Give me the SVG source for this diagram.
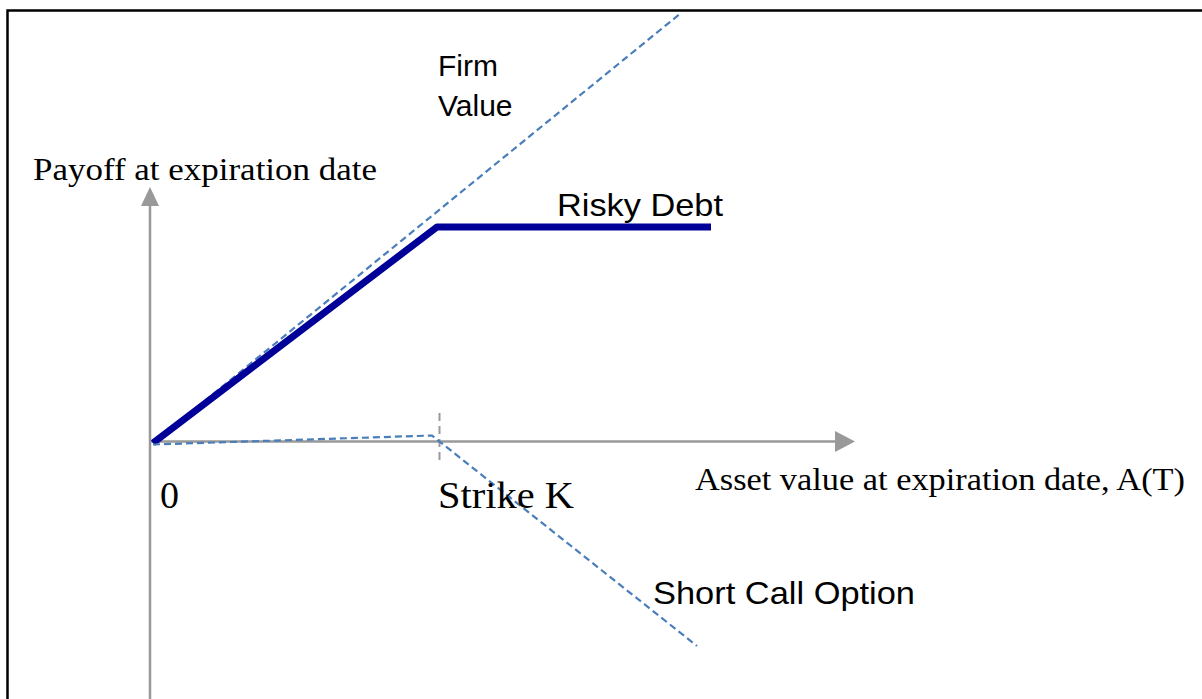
<svg xmlns="http://www.w3.org/2000/svg" width="1202" height="699" viewBox="0 0 1202 699">
  <style>
    .axis { stroke: #999999; stroke-width: 2.5; fill: none; }
    .tick { stroke: #999999; stroke-width: 2; stroke-dasharray: 8 5; fill: none; }
    .debt { stroke: #000099; stroke-width: 7; fill: none; stroke-linejoin: round; }
    .dash { stroke: #4a7ebb; stroke-width: 2.2; stroke-dasharray: 7 4; fill: none; }
    .sans { font-family: "Liberation Sans", Arial, sans-serif; fill: #000000; }
    .serif { font-family: "Liberation Serif", "Times New Roman", serif; fill: #000000; }
  </style>
  <rect width="1202" height="699" fill="#ffffff"/>
  <!-- outer frame (right and bottom edges lie beyond the canvas) -->
  <rect x="7.5" y="10.5" width="1210" height="710" fill="none" stroke="#000000" stroke-width="2.5"/>

  <g id="axes">
    <line class="axis" x1="150" y1="699" x2="150" y2="206"/>
    <path d="M150,187 L159,206 L141,206 Z" fill="#999999"/>
    <line class="axis" x1="150" y1="441.5" x2="836" y2="441.5"/>
    <path d="M855,441.5 L835,431 L835,452 Z" fill="#999999"/>
    <line class="tick" x1="439.5" y1="413" x2="439.5" y2="460"/>
  </g>

  <g id="connectors">
    <line id="firm-value" class="dash" x1="153" y1="443" x2="681" y2="13"/>
    <polyline id="risky-debt" class="debt" points="153,443 437,227 711,227"/>
    <polyline id="short-call" class="dash" points="153,444.5 432,435.5 697,646"/>
  </g>

  <g id="labels">
    <text class="serif" x="33" y="180" font-size="31" textLength="344" lengthAdjust="spacingAndGlyphs">Payoff at expiration date</text>
    <text class="sans" x="438" y="76" font-size="30">Firm</text>
    <text class="sans" x="438" y="116" font-size="30">Value</text>
    <text class="sans" x="557" y="216" font-size="32" textLength="166" lengthAdjust="spacingAndGlyphs">Risky Debt</text>
    <text class="serif" x="160" y="508" font-size="38">0</text>
    <text class="serif" x="438" y="508" font-size="38" textLength="136" lengthAdjust="spacingAndGlyphs">Strike K</text>
    <text class="serif" x="695" y="490" font-size="32" textLength="490" lengthAdjust="spacingAndGlyphs">Asset value at expiration date, A(T)</text>
    <text class="sans" x="653" y="604" font-size="32" textLength="262" lengthAdjust="spacingAndGlyphs">Short Call Option</text>
  </g>
</svg>
